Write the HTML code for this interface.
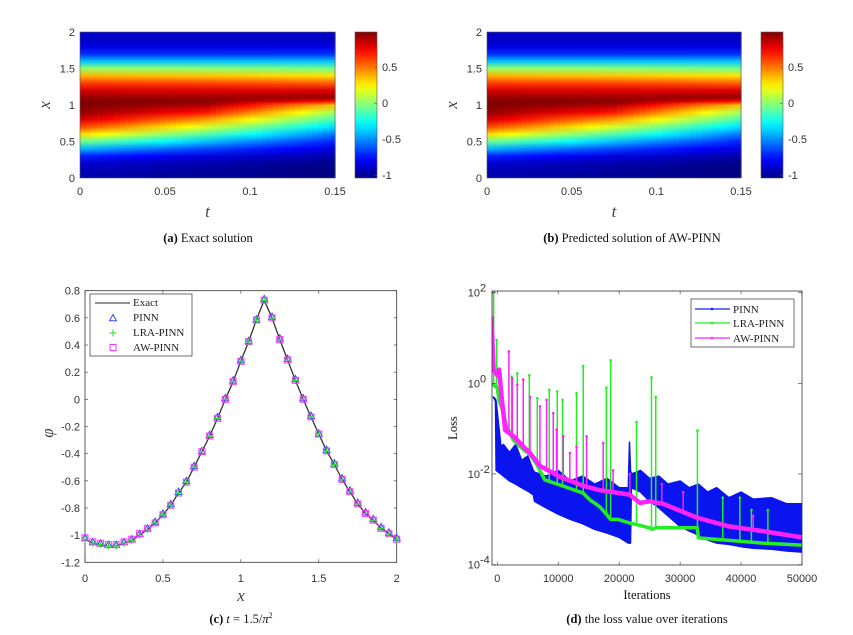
<!DOCTYPE html>
<html><head><meta charset="utf-8"><style>
html,body{margin:0;padding:0;background:#fff;}
svg{display:block;}
.tk{font-family:"Liberation Sans",sans-serif;font-size:11px;fill:#333;}
.cap{font-family:"Liberation Serif",serif;font-size:12.5px;fill:#111;}
.lab{font-family:"Liberation Serif",serif;font-style:italic;font-size:17px;fill:#444;}
.leg{font-family:"Liberation Serif",serif;font-size:11px;fill:#222;}
</style></head><body>
<svg id="fig" width="853" height="635" viewBox="0 0 853 635" xmlns="http://www.w3.org/2000/svg">
<defs id="defs"></defs>
<g id="pa"></g>
<g id="pb"></g>
<g id="pc"></g>
<g id="pd"></g>
</svg>
<script>
// ---------- heatmap data ----------
const hmX = [0,0.1,0.2,0.3,0.4,0.5,0.6,0.7,0.8,0.9,1.0,1.05,1.1,1.2,1.3,1.4,1.5,1.6,1.7,1.8,1.9,2.0];
const hmT = [0,0.075,0.15];
const hmProfileT0 = [-0.95,-0.93,-0.88,-0.72,-0.42,-0.05,0.3,0.6,0.82,0.95,0.99,0.985,0.95,0.82,0.62,0.38,0.02,-0.4,-0.7,-0.85,-0.9,-0.9];
const hmProfileTmid = [-1.0,-0.98,-0.95,-0.85,-0.65,-0.4,-0.12,0.15,0.42,0.7,0.9,0.98,0.93,0.8,0.6,0.34,0.0,-0.4,-0.7,-0.85,-0.9,-0.9];
const hmProfileT1 = [-1.04,-1.04,-1.02,-0.95,-0.85,-0.72,-0.55,-0.35,-0.15,0.05,0.35,0.7,0.95,0.8,0.55,0.28,-0.05,-0.4,-0.7,-0.85,-0.9,-0.9];
const hmTTicks = [0,0.05,0.1,0.15];
const hmTTickLabels = ['0','0.05','0.1','0.15'];
const hmXTicks = [0,0.5,1,1.5,2];
const hmXTickLabels = ['0','0.5','1','1.5','2'];
const cbTicks = [0.5,0,-0.5,-1];
const cbTickLabels = ['0.5','0','-0.5','-1'];
const cMin = -1.04, cMax = 0.99;

// ---------- panel c data ----------
const profX = [0,0.05,0.1,0.15,0.2,0.25,0.3,0.35,0.4,0.45,0.5,0.55,0.6,0.65,0.7,0.75,0.8,0.85,0.9,0.95,1.0,1.05,1.1,1.15,1.2,1.25,1.3,1.35,1.4,1.45,1.5,1.55,1.6,1.65,1.7,1.75,1.8,1.85,1.9,1.95,2.0];
const exactY = [-1.03,-1.06,-1.07,-1.08,-1.08,-1.06,-1.04,-1.0,-0.96,-0.91,-0.85,-0.78,-0.69,-0.61,-0.5,-0.385,-0.27,-0.14,0.0,0.13,0.28,0.425,0.585,0.73,0.6,0.44,0.29,0.14,0.0,-0.13,-0.255,-0.38,-0.48,-0.59,-0.68,-0.77,-0.84,-0.89,-0.95,-0.99,-1.03];
const pinnY = [-1.02,-1.05,-1.06,-1.07,-1.07,-1.05,-1.03,-0.99,-0.95,-0.9,-0.84,-0.77,-0.68,-0.6,-0.49,-0.38,-0.26,-0.13,0.01,0.14,0.29,0.43,0.59,0.74,0.61,0.45,0.3,0.15,0.01,-0.12,-0.25,-0.37,-0.47,-0.58,-0.67,-0.76,-0.83,-0.88,-0.94,-0.98,-1.02];
const lraY = exactY.slice();
const awY = [-1.02,-1.05,-1.06,-1.07,-1.07,-1.05,-1.03,-0.99,-0.95,-0.91,-0.85,-0.78,-0.69,-0.61,-0.5,-0.385,-0.27,-0.14,0.0,0.13,0.28,0.425,0.585,0.73,0.6,0.44,0.29,0.14,0.0,-0.13,-0.255,-0.38,-0.48,-0.59,-0.68,-0.77,-0.84,-0.89,-0.95,-0.99,-1.03];
const cXTicks = [0,0.5,1,1.5,2];
const cXTickLabels = ['0','0.5','1','1.5','2'];
const cYTicks = [0.8,0.6,0.4,0.2,0,-0.2,-0.4,-0.6,-0.8,-1,-1.2];
const cYTickLabels = ['0.8','0.6','0.4','0.2','0','-0.2','-0.4','-0.6','-0.8','-1','-1.2'];

// ---------- panel d data ----------
const pinnIt = [-650,-300,-200,600,1000,2000,3000,4000,5000,5900,6100,8000,10000,12000,14000,16000,18000,20000,21500,21700,21850,22000,23500,25000,26500,28000,30000,31500,33000,34500,36000,38000,40000,42000,45000,47500,50000];
const pinnHi = [0.5,0.45,0.4,0.04,0.045,0.03,0.045,0.02,0.025,0.012,0.011,0.009,0.012,0.007,0.009,0.006,0.008,0.005,0.005,0.05,0.012,0.01,0.012,0.008,0.009,0.006,0.007,0.005,0.006,0.004,0.005,0.003,0.004,0.0028,0.003,0.0022,0.0022];
const pinnLo = [0.5,0.4,0.012,0.01,0.009,0.007,0.006,0.005,0.0042,0.0035,0.0025,0.0018,0.0013,0.001,0.0008,0.0006,0.0005,0.0004,0.0003,0.0003,0.0003,0.005,0.004,0.0025,0.0018,0.0012,0.0007,0.00055,0.00045,0.00035,0.0003,0.00028,0.00025,0.00023,0.00022,0.0002,0.00019];
const lraIt = [-650,-600,0,300,710,1500,2620,4300,5360,6500,7800,10820,14100,15200,16800,17900,18600,19800,21750,25000,25400,26000,32800,33000,43600,50000];
const lraVal = [1.0,0.9,0.8,0.4,0.3,0.12,0.056,0.034,0.027,0.016,0.0074,0.0054,0.0038,0.0027,0.0019,0.0013,0.001,0.001,0.00083,0.00065,0.0006,0.00065,0.00065,0.00039,0.0003,0.00027];
const lraSpikeIt = [-600,-100,2350,3280,4260,5250,6560,8520,9840,10710,13000,14100,17900,18600,22840,25300,26000,32840,37000,39800,41700,44400];
const lraSpikeVal = [100,9,1.4,1.66,1.2,1.5,0.47,0.72,0.66,0.43,0.6,2.4,0.8,3.2,0.14,1.35,0.5,0.09,0.003,0.003,0.0016,0.0016];
const awIt = [-950,-900,-600,0,300,710,1300,2620,4300,5360,7000,10300,14100,16800,17900,21750,23400,25030,27200,32700,38000,43600,50000];
const awVal = [30,20,2,1.5,2.0,0.5,0.093,0.068,0.04,0.029,0.015,0.0086,0.0055,0.0044,0.0042,0.0035,0.0023,0.0025,0.0022,0.0011,0.0007,0.00055,0.0004];
const awSpikeIt = [-930,1900,2460,3280,4260,5360,7000,8090,9180,9730,10820,11900,13000,14650,17380,19000,21750,27000,30500,42000];
const awSpikeVal = [100,5,1.3,0.93,1.2,0.5,0.31,0.43,0.22,0.095,0.068,0.029,0.04,0.068,0.048,0.012,0.01,0.006,0.004,0.0012];
const dXTicks = [0,10000,20000,30000,40000,50000];
const dXTickLabels = ['0','10000','20000','30000','40000','50000'];
const dYTicks = [2,0,-2,-4];
const dYTickLabels = ['10','10','10','10'];
const dYTickExps = ['2','0','-2','-4'];

const NS='http://www.w3.org/2000/svg';
function mk(tag,attrs,parent){const e=document.createElementNS(NS,tag);for(const k in attrs)e.setAttribute(k,attrs[k]);parent.appendChild(e);return e;}
const defs=document.getElementById('defs');
function clamp(v){return Math.max(0,Math.min(1,v));}
function jet(v){const n=clamp((v-cMin)/(cMax-cMin));const r=clamp(1.5-Math.abs(4*n-3)),g=clamp(1.5-Math.abs(4*n-2)),b=clamp(1.5-Math.abs(4*n-1));return 'rgb('+Math.round(r*255)+','+Math.round(g*255)+','+Math.round(b*255)+')';}
function interp(xa,ya,x){if(x<=xa[0])return ya[0];for(let i=1;i<xa.length;i++){if(x<=xa[i]){const f=(x-xa[i-1])/(xa[i]-xa[i-1]);return ya[i-1]+f*(ya[i]-ya[i-1]);}}return ya[ya.length-1];}
function interpLog(xa,ya,x){return Math.pow(10,interp(xa,ya.map(v=>Math.log10(v)),x));}

function heatPanel(gid,px0,px1,cb0,cb1,caption,capBold,capCx,key){
  const g=document.getElementById(gid);
  const py0=32,py1=178;
  const tS=t=>px0+(t-0)/(0.15)*(px1-px0);
  const xS=x=>py1-(x/2)*(py1-py0);
  const N=45;
  const profs=[hmProfileT0,hmProfileTmid,hmProfileT1];
  for(let c=0;c<N;c++){
    const t=(c+0.5)/N*0.15;
    const seg=t<hmT[1]?0:1;const f=(t-hmT[seg])/(hmT[seg+1]-hmT[seg]);
    const vals=hmX.map((x,i)=>profs[seg][i]*(1-f)+profs[seg+1][i]*f);
    const gr=mk('linearGradient',{id:key+'g'+c,x1:0,y1:1,x2:0,y2:0},defs);
    hmX.forEach((x,i)=>{mk('stop',{offset:(x/2).toFixed(4),'stop-color':jet(vals[i])},gr);});
    const x0=tS(c/N*0.15),x1=tS((c+1)/N*0.15);
    const r=mk('rect',{x:x0.toFixed(2),y:py0,width:(x1-x0+0.6).toFixed(2),height:py1-py0,fill:'url(#'+key+'g'+c+')'},g);
    
    
  }
  const fr=mk('rect',{x:px0,y:py0,width:px1-px0,height:py1-py0,fill:'none',stroke:'#555','stroke-width':0.6},g);
  
  
  hmTTicks.forEach((t,i)=>{const tx=mk('text',{x:tS(t),y:195,'text-anchor':'middle',class:'tk'},g);tx.textContent=hmTTickLabels[i];
    
    });
  hmXTicks.forEach((x,i)=>{const tx=mk('text',{x:px0-5,y:xS(x)+4,'text-anchor':'end',class:'tk'},g);tx.textContent=hmXTickLabels[i];
    
    });
  const tl=mk('text',{x:(px0+px1)/2,y:217,'text-anchor':'middle',class:'lab'},g);tl.textContent='t';
  
  
  const xl=mk('text',{x:0,y:0,'text-anchor':'middle',class:'lab',transform:'translate('+(px0-30)+',105) rotate(-90)'},g);xl.textContent='x';
  
  
  const cg=mk('linearGradient',{id:key+'cb',x1:0,y1:1,x2:0,y2:0},defs);
  for(let i=0;i<=20;i++){mk('stop',{offset:i/20,'stop-color':jet(cMin+(cMax-cMin)*i/20)},cg);}
  const cbS=v=>py1-(v-cMin)/(cMax-cMin)*(py1-py0);
  const cb=mk('rect',{x:cb0,y:py0,width:cb1-cb0,height:py1-py0,fill:'url(#'+key+'cb)',stroke:'#555','stroke-width':0.6},g);
  
  
  cbTicks.forEach((v,i)=>{mk('line',{x1:cb1-3,x2:cb1,y1:cbS(v),y2:cbS(v),stroke:'#555','stroke-width':0.6},g);
    const tx=mk('text',{x:cb1+5,y:cbS(v)+4,class:'tk'},g);tx.textContent=cbTickLabels[i];
    
    });
  const cp=mk('text',{x:capCx,y:242,'text-anchor':'middle',class:'cap'},g);
  cp.innerHTML='<tspan font-weight="bold">'+capBold+'</tspan> '+caption;
  
  
}
heatPanel('pa',80,335,355,377,'Exact solution','(a)',208,'a');
heatPanel('pb',487,741,761,783,'Predicted solution of AW-PINN','(b)',632,'b');

// ---------- panel c ----------
(function(){
  const g=document.getElementById('pc');
  const X0=85,X1=396.7,Y0=290.7,Y1=562.3;
  const xS=x=>X0+x/2*(X1-X0);
  const yS=y=>Y1-(y+1.2)/2*(Y1-Y0);
  const fr=mk('rect',{x:X0,y:Y0,width:X1-X0,height:Y1-Y0,fill:'none',stroke:'#333','stroke-width':0.8},g);
  
  
  cXTicks.forEach((x,i)=>{mk('line',{x1:xS(x),x2:xS(x),y1:Y1,y2:Y1-3,stroke:'#333','stroke-width':0.6},g);mk('line',{x1:xS(x),x2:xS(x),y1:Y0,y2:Y0+3,stroke:'#333','stroke-width':0.6},g);
    const t=mk('text',{x:xS(x),y:582,'text-anchor':'middle',class:'tk'},g);t.textContent=cXTickLabels[i];
    
    });
  cYTicks.forEach((y,i)=>{mk('line',{x1:X0,x2:X0+3,y1:yS(y),y2:yS(y),stroke:'#333','stroke-width':0.6},g);mk('line',{x1:X1,x2:X1-3,y1:yS(y),y2:yS(y),stroke:'#333','stroke-width':0.6},g);
    const t=mk('text',{x:X0-5,y:yS(y)+4,'text-anchor':'end',class:'tk'},g);t.textContent=cYTickLabels[i];
    
    });
  const ex=mk('polyline',{points:profX.map((x,i)=>xS(x).toFixed(1)+','+yS(exactY[i]).toFixed(1)).join(' '),fill:'none',stroke:'#333','stroke-width':1.3},g);
  
  
  profX.forEach((x,i)=>{
    const cx=xS(x),cy=yS(pinnY[i]);
    const tr=mk('polygon',{points:cx+','+(cy-3.5)+' '+(cx-3.5)+','+(cy+2.8)+' '+(cx+3.5)+','+(cy+2.8),fill:'none',stroke:'#3344ff','stroke-width':1},g);
    
    
    const sy=yS(awY[i]);
    const sq=mk('rect',{x:cx-3,y:sy-3,width:6,height:6,fill:'none',stroke:'#ff33ff','stroke-width':1},g);
    
    
    const ly=yS(lraY[i]);
    const pl=mk('path',{d:'M'+(cx-3.5)+','+ly+'h7M'+cx+','+(ly-3.5)+'v7',stroke:'#22dd22','stroke-width':1},g);
    
    
  });
  const lg=mk('g',{},g);
  
  
  mk('rect',{x:90,y:294,width:102,height:62,fill:'#fff',stroke:'#333','stroke-width':0.7},lg);
  mk('line',{x1:95,x2:130,y1:303,y2:303,stroke:'#555','stroke-width':1.3},lg);
  mk('polygon',{points:'113,314.5 109.5,320.8 116.5,320.8',fill:'none',stroke:'#3344ff','stroke-width':1},lg);
  mk('path',{d:'M109.5,333h7M113,329.5v7',stroke:'#22dd22','stroke-width':1},lg);
  mk('rect',{x:110,y:344.5,width:6,height:6,fill:'none',stroke:'#ff33ff','stroke-width':1},lg);
  [['Exact',306],['PINN',321],['LRA-PINN',336],['AW-PINN',351]].forEach(a=>{const t=mk('text',{x:133,y:a[1],class:'leg'},lg);t.textContent=a[0];
    
    });
  const xl=mk('text',{x:241,y:601,'text-anchor':'middle',class:'lab'},g);xl.textContent='x';
  
  
  const yl=mk('text',{x:0,y:0,'text-anchor':'middle',class:'lab',transform:'translate(53,433) rotate(-90)'},g);yl.textContent='φ';
  
  
  const cp=mk('text',{x:241,y:623,'text-anchor':'middle',class:'cap'},g);
  cp.innerHTML='<tspan font-weight="bold">(c)</tspan> <tspan font-style="italic">t</tspan> = 1.5/<tspan font-style="italic">π</tspan><tspan dy="-5" font-size="8">2</tspan>';
  
  
})();

// ---------- panel d ----------
(function(){
  const g=document.getElementById('pd');
  const X0=492,X1=802,Y0=291,Y1=565;
  const xS=it=>497.3+it*(802-497.3)/50000;
  const yS=v=>383.3-Math.log10(v)*45.35;
  const clip=mk('clipPath',{id:'dclip'},defs);mk('rect',{x:X0,y:Y0-1,width:X1-X0,height:Y1-Y0+1},clip);
  const pg=mk('g',{'clip-path':'url(#dclip)'},g);
  const pts=pinnIt.map((it,i)=>xS(it).toFixed(1)+','+yS(pinnHi[i]).toFixed(1)).concat(pinnIt.slice().reverse().map((it,j)=>{const i=pinnIt.length-1-j;return xS(it).toFixed(1)+','+yS(pinnLo[i]).toFixed(1);}));
  const band=mk('polygon',{points:pts.join(' '),fill:'#0a14ee',stroke:'#0a14ee','stroke-width':1.5,'stroke-linejoin':'round'},pg);
  
  
  function series(its,vals,sIt,sVal,col,name,w){
    sIt.forEach((it,i)=>{const base=interpLog(its,vals,it);
      const s=mk('line',{x1:xS(it),x2:xS(it),y1:yS(base),y2:yS(sVal[i]),stroke:col,'stroke-width':1.5},pg);
      
      
      const m=mk('circle',{cx:xS(it),cy:yS(sVal[i]),r:1.3,fill:col},pg);
      
      });
    const l=mk('polyline',{points:its.map((it,i)=>xS(it).toFixed(1)+','+yS(vals[i]).toFixed(1)).join(' '),fill:'none',stroke:col,'stroke-width':w,'stroke-linejoin':'round'},pg);
    
    
  }
  series(lraIt,lraVal,lraSpikeIt,lraSpikeVal,'#22ee22','lra-pinn',3.5);
  series(awIt,awVal,awSpikeIt,awSpikeVal,'#ff22ff','aw-pinn',4.5);
  const fr=mk('rect',{x:X0,y:Y0,width:X1-X0,height:Y1-Y0,fill:'none',stroke:'#333','stroke-width':0.8},g);
  
  
  dXTicks.forEach((x,i)=>{mk('line',{x1:xS(x),x2:xS(x),y1:Y1,y2:Y1-3,stroke:'#333','stroke-width':0.6},g);mk('line',{x1:xS(x),x2:xS(x),y1:Y0,y2:Y0+3,stroke:'#333','stroke-width':0.6},g);
    const t=mk('text',{x:xS(x),y:582,'text-anchor':'middle',class:'tk'},g);t.textContent=dXTickLabels[i];
    
    });
  dYTicks.forEach((e,i)=>{const y=yS(Math.pow(10,e));mk('line',{x1:X0,x2:X0+4,y1:y,y2:y,stroke:'#333','stroke-width':0.6},g);mk('line',{x1:X1,x2:X1-4,y1:y,y2:y,stroke:'#333','stroke-width':0.6},g);
    const t=mk('text',{x:X0-12,y:y+4,'text-anchor':'end',class:'tk'},g);t.textContent=dYTickLabels[i];
    
    
    const s=mk('text',{x:X0-12,y:y-1,class:'tk'},g);s.setAttribute('font-size','8');s.textContent=dYTickExps[i];
    
    });
  const lg=mk('g',{},g);
  
  
  mk('rect',{x:691,y:299,width:103,height:48,fill:'#fff',stroke:'#333','stroke-width':0.7},lg);
  [['PINN','#1020ee',309],['LRA-PINN','#22ee22',323],['AW-PINN','#ff22ff',338]].forEach(a=>{
    mk('line',{x1:695,x2:730,y1:a[2],y2:a[2],stroke:a[1],'stroke-width':1.3},lg);
    mk('circle',{cx:712,cy:a[2],r:1.3,fill:a[1]},lg);
    const t=mk('text',{x:733,y:a[2]+4,class:'leg'},lg);t.textContent=a[0];
    
    });
  const xl=mk('text',{x:647,y:599,'text-anchor':'middle',class:'cap'},g);xl.setAttribute('font-size','15');xl.textContent='Iterations';
  
  
  const yl=mk('text',{x:0,y:0,'text-anchor':'middle',class:'cap',transform:'translate(457,428) rotate(-90)'},g);yl.setAttribute('font-size','15');yl.textContent='Loss';
  
  
  const cp=mk('text',{x:647,y:623,'text-anchor':'middle',class:'cap'},g);
  cp.innerHTML='<tspan font-weight="bold">(d)</tspan> the loss value over iterations';
  
  
})();
</script>
</body></html>
